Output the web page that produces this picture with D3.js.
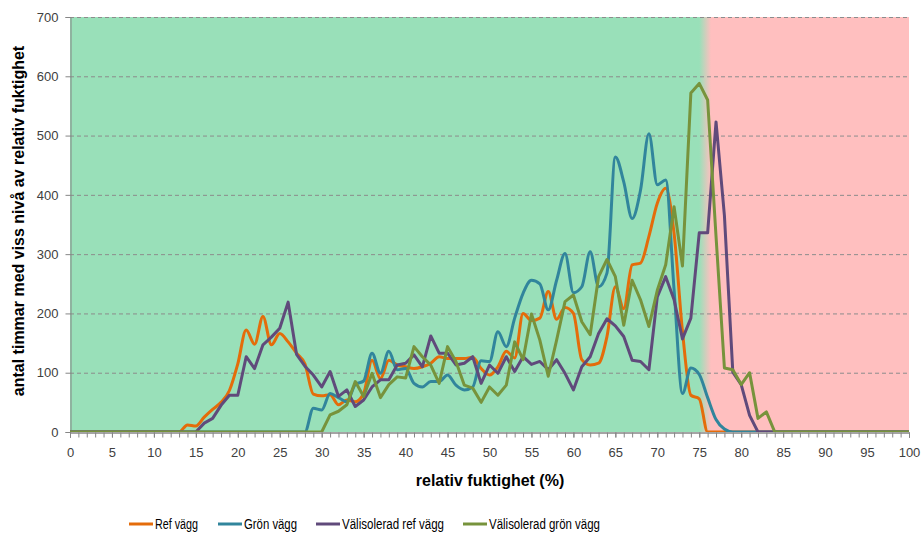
<!DOCTYPE html>
<html>
<head>
<meta charset="utf-8">
<script src="https://cdn.jsdelivr.net/npm/d3@7"></script>
<style>
  body { margin: 0; background: #fff; }
  #chart { width: 922px; height: 537px; }
  text { font-family: "Liberation Sans", Arial, sans-serif; fill: #404040; }
</style>
</head>
<body>
<div id="chart"></div>
<script>
// relativ fuktighet 0..100 %, one value per percent step
const humidity = d3.range(0, 101);

const refVagg = [
  0,0,0,0,0,0,0,0,0,0, 0,0,0,0,12,10,25,38,50,70,
  115,172,148,195,147,166,152,133,115,64, 61,63,46,54,51,65,121,90,121,113,
  110,107,110,116,127,124,124,124,126,107, 96,110,136,125,200,188,192,237,190,210,
  200,122,113,116,161,245,208,282,285,330, 386,411,335,170,62,56,0,0,0,0,
  0,0,0,0,0,0,0,0,0,0, 0,0,0,0,0,0,0,0,0,0, 0
];

const gronVagg = [
  0,0,0,0,0,0,0,0,0,0, 0,0,0,0,0,0,0,0,0,0,
  0,0,0,0,0,0,0,0,0,40, 37,65,58,51,80,86,133,99,136,105,
  107,82,76,85,85,96,79,71,76,120, 119,169,144,192,234,256,250,206,256,301,
  235,245,304,245,268,464,422,360,408,503, 417,425,240,65,108,97,58,21,5,0,
  0,0,0,0,0,0,0,0,0,0, 0,0,0,0,0,0,0,0,0,0, 0
];

const valisoleradRef = [
  0,0,0,0,0,0,0,0,0,0, 0,0,0,0,0,0,15,23,45,62,
  62,127,107,147,160,175,219,131,111,96, 76,102,60,71,43,54,76,88,88,113,
  116,130,110,162,133,133,113,116,127,82, 113,99,127,102,127,114,119,105,122,99,
  71,110,127,166,191,179,161,121,119,105, 228,262,223,157,192,336,336,523,365,101,
  80,28,0,0,0,0,0,0,0,0, 0,0,0,0,0,0,0,0,0,0, 0
];

const valisoleradGron = [
  0,0,0,0,0,0,0,0,0,0, 0,0,0,0,0,0,0,0,0,0,
  0,0,0,0,0,0,0,0,0,0, 0,29,35,46,85,60,99,58,80,93,
  91,144,127,113,82,144,119,79,74,50, 76,62,79,152,122,199,155,94,155,220,
  231,186,164,262,291,262,180,256,223,178, 239,282,380,280,572,588,560,330,108,105,
  80,100,23,34,0,0,0,0,0,0, 0,0,0,0,0,0,0,0,0,0, 0
];

const seriesNames = ["Ref vägg", "Grön vägg", "Välisolerad ref vägg", "Välisolerad grön vägg"];
const seriesColors = ["#e46c0a", "#31859c", "#604a7b", "#77933c"];
const seriesSmooth = [true, true, false, false];
const seriesValues = [refVagg, gronVagg, valisoleradRef, valisoleradGron];

const yTicks = [0, 100, 200, 300, 400, 500, 600, 700];
const xTicks = d3.range(0, 101, 5);

const width = 922;
const height = 537;
const margin = {top: 17, left: 70, right: 13, bottom: 105};

const svg = d3.select("#chart")
    .append("svg")
    .attr("width", width)
    .attr("height", height);

const xScale = d3.scaleLinear()
    .domain([0, 100])
    .range([margin.left, width - margin.right]);

const yScale = d3.scaleLinear()
    .domain([0, 700])
    .range([height - margin.bottom, margin.top]);

// background: green up to ~75 %, red above
const defs = svg.append("defs");
const grad = defs.append("linearGradient")
    .attr("id", "bg")
    .attr("gradientUnits", "userSpaceOnUse")
    .attr("x1", xScale(0)).attr("x2", xScale(100))
    .attr("y1", 0).attr("y2", 0);
grad.append("stop").attr("offset", "75%").attr("stop-color", "#99e0b9");
grad.append("stop").attr("offset", "76.4%").attr("stop-color", "#ffbfbf");

defs.append("clipPath").attr("id", "plotClip")
    .append("rect")
    .attr("x", xScale(0))
    .attr("y", yScale(700) - 3)
    .attr("width", xScale(100) - xScale(0))
    .attr("height", yScale(0) - yScale(700) + 3);

svg.append("rect")
    .attr("x", xScale(0))
    .attr("y", yScale(700))
    .attr("width", xScale(100) - xScale(0))
    .attr("height", yScale(0) - yScale(700))
    .attr("fill", "url(#bg)");

// gridlines
svg.append("g")
    .selectAll("line")
    .data(yTicks.filter(d => d > 0))
    .enter()
    .append("line")
        .attr("x1", xScale(0))
        .attr("x2", xScale(100))
        .attr("y1", d => yScale(d) + 0.5)
        .attr("y2", d => yScale(d) + 0.5)
        .attr("stroke", "#8c8c8c")
        .attr("stroke-width", 1)
        .attr("stroke-dasharray", "4,3");

// axes
const yAxis = svg.append("g")
    .attr("transform", `translate(${xScale(0) + 0.5},0)`)
    .call(d3.axisLeft(yScale).tickValues(yTicks).tickSize(5).tickPadding(7));

const xMinor = svg.append("g")
    .attr("transform", `translate(0,${yScale(0) + 0.5})`)
    .call(d3.axisBottom(xScale).tickValues(humidity).tickSize(5).tickFormat(""));

const xAxis = svg.append("g")
    .attr("transform", `translate(0,${yScale(0) + 0.5})`)
    .call(d3.axisBottom(xScale).tickValues(xTicks).tickSize(5).tickPadding(10));

[yAxis, xMinor, xAxis].forEach(function(ax) {
    ax.select(".domain").attr("stroke", "#868686");
    ax.selectAll(".tick line").attr("stroke", "#868686");
    ax.selectAll(".tick text")
        .attr("font-size", 13)
        .attr("fill", "#404040")
        .style("font-family", "'Liberation Sans', Arial, sans-serif");
});

// lines
const plot = svg.append("g").attr("clip-path", "url(#plotClip)");

seriesValues.forEach(function(values, i) {
    const line = d3.line()
        .x((d, j) => xScale(humidity[j]))
        .y(d => yScale(d))
        .curve(seriesSmooth[i] ? d3.curveMonotoneX : d3.curveLinear);

    plot.append("path")
        .datum(values)
        .attr("d", line)
        .attr("fill", "none")
        .attr("stroke", seriesColors[i])
        .attr("stroke-width", 3)
        .attr("stroke-linejoin", "round");
});

// axis titles
svg.append("text")
    .attr("x", 490)
    .attr("y", 486)
    .attr("text-anchor", "middle")
    .attr("font-size", 16)
    .attr("font-weight", "bold")
    .style("fill", "#000")
    .text("relativ fuktighet (%)");

svg.append("text")
    .attr("transform", "rotate(-90)")
    .attr("x", -221)
    .attr("y", 24)
    .attr("text-anchor", "middle")
    .attr("font-size", 16)
    .attr("font-weight", "bold")
    .style("fill", "#000")
    .text("antal timmar med viss nivå av relativ fuktighet");

// legend
const legendX = [129, 218, 316, 463];
const legend = svg.append("g")
    .selectAll("g")
    .data(seriesNames)
    .enter()
    .append("g")
        .attr("transform", (d, i) => `translate(${legendX[i]},524)`);

legend.append("line")
    .attr("x1", 0).attr("x2", 24)
    .attr("y1", 0).attr("y2", 0)
    .attr("stroke", (d, i) => seriesColors[i])
    .attr("stroke-width", 3);

legend.append("text")
    .attr("x", 26)
    .attr("y", 5)
    .attr("font-size", 14)
    .attr("textLength", (d, i) => [43, 53, 102, 111][i])
    .attr("lengthAdjust", "spacingAndGlyphs")
    .style("fill", "#000")
    .text(d => d);
</script>
</body>
</html>
